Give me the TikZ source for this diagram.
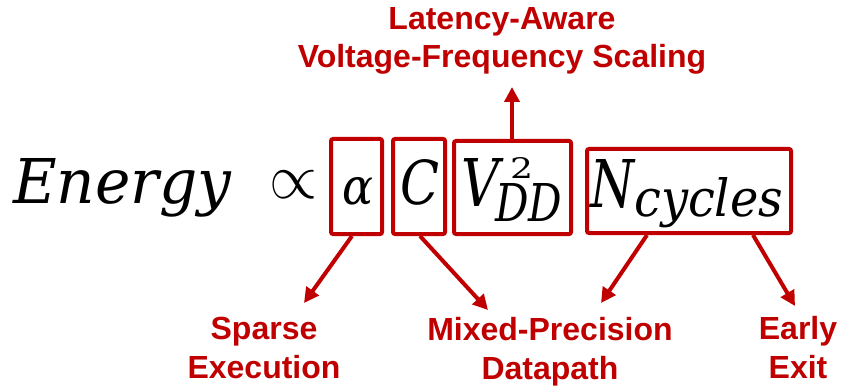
\documentclass[tikz,border=0pt]{standalone}
\usepackage{fontspec}
\newfontfamily\labfont{Liberation Sans}
\newfontfamily\eqfont{DejaVu Serif}
\usetikzlibrary{arrows.meta}
\definecolor{dred}{HTML}{C00000}
\begin{document}
\begin{tikzpicture}[x=1pt,y=-1pt,
  eq/.style={inner sep=0pt,anchor=base west,font=\eqfont},
  termbox/.style={draw=dred,line width=4pt,rounded corners=2pt,inner sep=0pt},
  lbl/.style={text=dred,align=center,inner sep=0pt,anchor=base,
    font=\labfont\bfseries\fontsize{32}{38.5}\selectfont},
  arr/.style={draw=dred,line width=4pt,-{Triangle[length=15pt,width=15pt]}}]
\useasboundingbox (0,0) rectangle (842,390);
% boxes
\node[termbox,minimum width=51pt,minimum height=95pt] (abox) at (356.5,186.5) {};
\node[termbox,minimum width=52pt,minimum height=95pt] (cbox) at (419,186.5) {};
\node[termbox,minimum width=117pt,minimum height=93pt] (vbox) at (512.5,187.5) {};
\node[termbox,minimum width=204pt,minimum height=84pt] (nbox) at (689,191) {};
% equation
\node[eq] (energy) at (13,204) {\resizebox{218pt}{45pt}{\itshape Energy}};
\node[eq] (prop) at (269,198) {\resizebox{48pt}{27.5pt}{$\propto$}};
\node[eq] (alpha) at (342,204) {\resizebox{31pt}{27pt}{\itshape α}};
\node[eq] (cap) at (400,204) {\resizebox{39pt}{45pt}{\itshape C}};
\node[eq] (volt) at (461,206) {\resizebox{38pt}{48pt}{\itshape V}};
\node[eq] (sq) at (510,178) {\resizebox{23pt}{21pt}{2}};
\node[eq] (dd) at (495,221) {\resizebox{67pt}{38pt}{\itshape DD}};
\node[eq] (ncyc) at (590,207) {\resizebox{44pt}{48pt}{\itshape N}};
\node[eq] (cyc) at (634,216) {\resizebox{149pt}{39pt}{\itshape cycles}};
% labels
\node[lbl] (top) at (502,68) {Latency-Aware\\Voltage-Frequency Scaling};
\node[lbl] (sparse) at (264,378) {Sparse\\Execution};
\node[lbl] (mixed) at (550,379) {Mixed-Precision\\Datapath};
\node[lbl] (early) at (798,378) {Early\\Exit};
% arrow tips
\coordinate (tipV) at (512,87);
\coordinate (tipA) at (304,303);
\coordinate (tipC) at (488,310);
\coordinate (tipNL) at (601,303);
\coordinate (tipNR) at (795,306);
% arrows
\draw[arr] ([xshift=-0.5pt]vbox.north) -- (tipV);
\draw[arr] ([xshift=-4.5pt]abox.south) -- (tipA);
\draw[arr] ([xshift=1pt]cbox.south) -- (tipC);
\draw[arr] ([xshift=-42pt]nbox.south) -- (tipNL);
\draw[arr] ([xshift=64pt]nbox.south) -- (tipNR);
\end{tikzpicture}
\end{document}
